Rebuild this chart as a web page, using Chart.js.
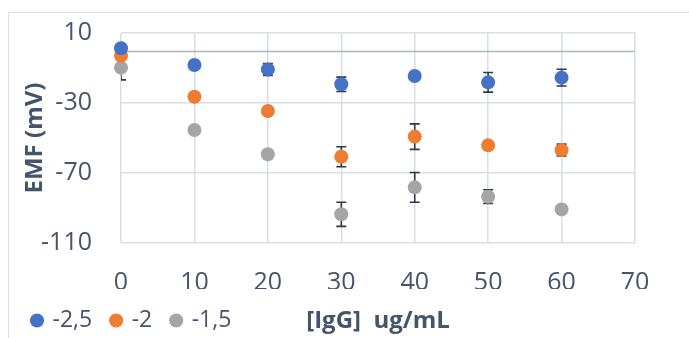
<!DOCTYPE html>
<html>
<head>
<meta charset="utf-8">
<script src="https://cdn.jsdelivr.net/npm/chart.js@4/dist/chart.umd.min.js"></script>
<style>
  html, body { margin: 0; padding: 0; background: #fff; }
  #wrap { position: relative; width: 689px; height: 338px; }
</style>
</head>
<body>
<div id="wrap"><canvas id="c" width="689" height="338"></canvas></div>
<script>
// Concentration of IgG (ug/mL)
const concentrations = [0, 10, 20, 30, 40, 50, 60];

// EMF readings (mV) for each applied potential
const emf_m25 = [1.3, -8.3, -10.8, -19.3, -14.6, -18.2, -15.5];
const emf_m2  = [-3.0, -26.4, -34.6, -60.7, -49.2, -54.2, -56.9];
const emf_m15 = [-9.8, -45.4, -59.3, -93.6, -78.2, -83.5, -90.8];

// Standard deviations (mV)
const err_m25 = [0, 0, 3.4, 4.1, 0, 5.6, 4.8];
const err_m2  = [0, 0, 0, 5.7, 7.3, 0, 3.4];
const err_m15 = [7.0, 0, 0, 6.9, 8.5, 3.9, 0];

const seriesLabels = ['-2,5', '-2', '-1,5'];
const xTicks = [0, 10, 20, 30, 40, 50, 60, 70];
const yTicks = [10, -30, -70, -110];

const textColor = '#44546A';
const gridColor = '#D9DEE6';
const zeroColor = '#ACB6C4';
const barColor = '#2E3A4B';
const FONT = 'Open Sans';

const toPoints = (ys) => concentrations.map((x, i) => ({ x: x, y: ys[i] }));

// Error bars drawn under the markers, vertical with flat caps
const errorBars = {
  id: 'errorBars',
  beforeDatasetsDraw(chart) {
    const { ctx, chartArea, scales: { x, y } } = chart;
    ctx.save();
    ctx.beginPath();
    ctx.rect(chartArea.left, chartArea.top, chartArea.right - chartArea.left, chartArea.bottom - chartArea.top);
    ctx.clip();
    ctx.strokeStyle = barColor;
    ctx.lineWidth = 1.6;
    chart.data.datasets.forEach((ds) => {
      ds.data.forEach((p, i) => {
        const e = ds.errors[i];
        if (!e) return;
        const px = x.getPixelForValue(p.x);
        const top = y.getPixelForValue(p.y + e);
        const bot = y.getPixelForValue(p.y - e);
        ctx.beginPath();
        ctx.moveTo(px, top); ctx.lineTo(px, bot);
        ctx.moveTo(px - 5, top); ctx.lineTo(px + 5, top);
        ctx.moveTo(px - 5, bot); ctx.lineTo(px + 5, bot);
        ctx.stroke();
      });
    });
    ctx.restore();
  }
};

// Horizontal axis line at 0 mV and the outer frame
const frame = {
  id: 'frame',
  beforeDraw(chart) {
    const { ctx } = chart;
    ctx.save();
    ctx.strokeStyle = gridColor;
    ctx.lineWidth = 1;
    ctx.beginPath();
    ctx.moveTo(8.5, chart.height + 2);
    ctx.lineTo(8.5, 12.5);
    ctx.lineTo(chart.width + 2, 12.5);
    ctx.stroke();
    ctx.restore();
  },
  beforeDatasetsDraw(chart) {
    const { ctx, chartArea, scales: { y } } = chart;
    const py = Math.round(y.getPixelForValue(0)) + 0.5;
    ctx.save();
    ctx.strokeStyle = zeroColor;
    ctx.lineWidth = 1.5;
    ctx.beginPath();
    ctx.moveTo(chartArea.left, py);
    ctx.lineTo(chartArea.right, py);
    ctx.stroke();
    ctx.restore();
  }
};

const mk = (label, ys, errs, color) => ({
  label: label,
  data: toPoints(ys),
  errors: errs,
  backgroundColor: color,
  borderColor: color,
  pointRadius: 7,
  pointHoverRadius: 7,
  pointBorderWidth: 0,
  showLine: false,
  clip: false
});

new Chart(document.getElementById('c'), {
  type: 'scatter',
  data: {
    datasets: [
      mk(seriesLabels[0], emf_m25, err_m25, '#4472C4'),
      mk(seriesLabels[1], emf_m2, err_m2, '#ED7D31'),
      mk(seriesLabels[2], emf_m15, err_m15, '#A5A5A5')
    ]
  },
  options: {
    responsive: false,
    animation: false,
    events: [],
    layout: { padding: { top: 33, right: 54, left: 13, bottom: -4 } },
    plugins: {
      tooltip: { enabled: false },
      legend: {
        position: 'bottom',
        align: 'start',
        labels: {
          usePointStyle: true,
          pointStyle: 'circle',
          boxWidth: 8,
          boxHeight: 10,
          padding: 20,
          color: textColor,
          font: { family: FONT, size: 23 }
        }
      }
    },
    scales: {
      x: {
        type: 'linear',
        min: 0, max: 70,
        afterBuildTicks(s) { s.ticks = xTicks.map(v => ({ value: v })); },
        afterFit(s) { s.height = 46; },
        grid: { color: gridColor, lineWidth: 1.5, drawTicks: false },
        border: { display: false },
        ticks: { color: textColor, padding: 25, font: { family: FONT, size: 25 } },
        title: {
          display: true,
          text: '[IgG]  ug/mL',
          color: textColor,
          font: { family: FONT, size: 24, weight: 'bold' },
          padding: { top: 0, bottom: -46.4 }
        }
      },
      y: {
        type: 'linear',
        min: -110, max: 10,
        afterBuildTicks(s) { s.ticks = yTicks.map(v => ({ value: v })); },
        afterFit(s) { s.width = 108; s.paddingTop = 0; s.paddingBottom = 0; },
        grid: { color: gridColor, lineWidth: 1.5, drawTicks: false },
        border: { display: false },
        ticks: { color: textColor, padding: 29, font: { family: FONT, size: 25 } },
        title: {
          display: true,
          text: 'EMF (mV)',
          color: textColor,
          font: { family: FONT, size: 24, weight: 'bold' },
          padding: { top: 7.6, bottom: 0 }
        }
      }
    }
  },
  plugins: [frame, errorBars]
});
</script>
</body>
</html>
